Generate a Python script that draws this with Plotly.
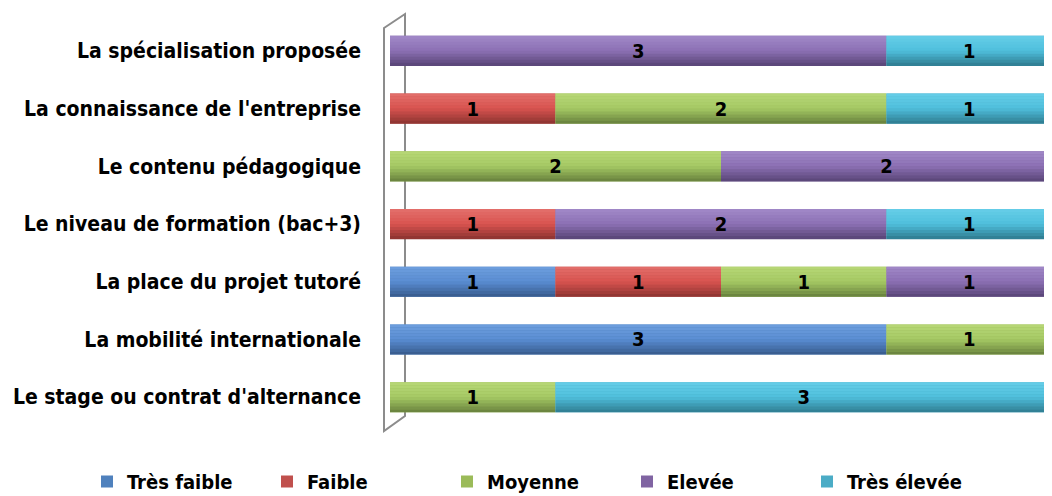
import numpy as np
import plotly.graph_objects as go

# catégories, de haut en bas
categories = [
    "La spécialisation proposée",
    "La connaissance de l'entreprise",
    "Le contenu pédagogique",
    "Le niveau de formation (bac+3)",
    "La place du projet tutoré",
    "La mobilité internationale",
    "Le stage ou contrat d'alternance",
]

tres_faible = [0, 0, 0, 0, 1, 3, 0]
faible = [0, 1, 0, 1, 1, 0, 0]
moyenne = [0, 2, 2, 0, 1, 1, 1]
elevee = [3, 0, 2, 2, 1, 0, 0]
tres_elevee = [1, 1, 0, 1, 0, 0, 3]

series_names = ["Très faible", "Faible", "Moyenne", "Elevée", "Très élevée"]
series_values = [tres_faible, faible, moyenne, elevee, tres_elevee]

# couleur légende, haut, milieu, bas (effet cylindre)
palette = [
    ("#4F81BD", "#6E9FDE", "#5A8DD3", "#36598A"),
    ("#C0504D", "#E3706C", "#D9534F", "#8A3330"),
    ("#9BBB59", "#B8D877", "#A5C964", "#667F3C"),
    ("#8064A2", "#A189C8", "#8C70B4", "#574475"),
    ("#4BACC6", "#66CEE8", "#4FBFDC", "#2E7A8E"),
]

FONT = "DejaVu Sans Condensed"
W = 0.52
NB = 10

# la page a une marge de 8 px : on compense
OFF = 8
FIG_W, FIG_H = 1052 - OFF, 496 - OFF
L, T, B = 390 - OFF, 22 - OFF, 496 - 426
PLOT_W, PLOT_H = FIG_W - L, FIG_H - T - B


def mix(c1, c2, t):
    a = np.array([int(c1[i:i + 2], 16) for i in (1, 3, 5)])
    b = np.array([int(c2[i:i + 2], 16) for i in (1, 3, 5)])
    r = (a + (b - a) * t).round().astype(int)
    return "rgb(%d,%d,%d)" % tuple(r)


vals = np.array(series_values, dtype=float)
bases = np.vstack([np.zeros(len(categories)), np.cumsum(vals, axis=0)[:-1]])

fig = go.Figure()
for k, name in enumerate(series_names):
    leg, top, mid, bot = palette[k]
    fig.add_trace(go.Bar(y=categories, x=vals[k], base=bases[k], orientation='h',
                         width=W, name=name, marker=dict(color=leg, line=dict(width=0)),
                         legendgroup=name, showlegend=True, hoverinfo='skip'))
    for i in range(NB):
        t = (i + 0.5) / NB
        if t < 0.5:
            col = mix(top, mid, t / 0.5)
        else:
            col = mix(mid, bot, (t - 0.5) / 0.5)
        fig.add_trace(go.Bar(y=categories, x=vals[k], base=bases[k], orientation='h',
                             width=W / NB * 1.05, offset=-W / 2 + i * W / NB,
                             marker=dict(color=col, line=dict(width=0)),
                             legendgroup=name, showlegend=False, hoverinfo='skip'))

# étiquettes de données
for k, name in enumerate(series_names):
    txt = [str(int(v)) if v > 0 else "" for v in vals[k]]
    fig.add_trace(go.Bar(y=categories, x=vals[k], base=bases[k], orientation='h',
                         width=W, marker=dict(color='rgba(0,0,0,0)', line=dict(width=0)),
                         text=txt, textposition='inside', insidetextanchor='middle',
                         textfont=dict(family=FONT, size=20, color='black', weight='bold'),
                         showlegend=False, legendgroup=name, hoverinfo='skip'))


# paroi 3D à gauche (coordonnées écran -> papier)
def px(x):
    return (x - 390) / PLOT_W


def py(y):
    return 1 - (y - 22) / PLOT_H


wall = "M %f %f L %f %f L %f %f L %f %f Z" % (px(384), py(28), px(405), py(14),
                                              px(405), py(416), px(384), py(431))
fig.add_shape(type='path', path=wall, xref='paper', yref='paper',
              line=dict(color='#8C8C8C', width=2), fillcolor='white', layer='below')

fig.update_layout(
    width=FIG_W, height=FIG_H,
    barmode='overlay',
    plot_bgcolor='white', paper_bgcolor='white',
    margin=dict(l=L, r=0, t=T, b=B, autoexpand=False),
    xaxis=dict(range=[0, 4], visible=False),
    yaxis=dict(autorange='reversed', showgrid=False, zeroline=False, showline=False,
               ticks='', ticklabelstandoff=28, automargin=False,
               tickfont=dict(family=FONT, size=21, color='black', weight='bold')),
    legend=dict(orientation='h', xref='paper', yref='paper', x=px(87), y=py(462),
                xanchor='left', yanchor='top', traceorder='normal',
                font=dict(family=FONT, size=20, color='black', weight='bold'),
                itemwidth=30, entrywidth=135),
    showlegend=True,
)

fig.write_html("out.html")
